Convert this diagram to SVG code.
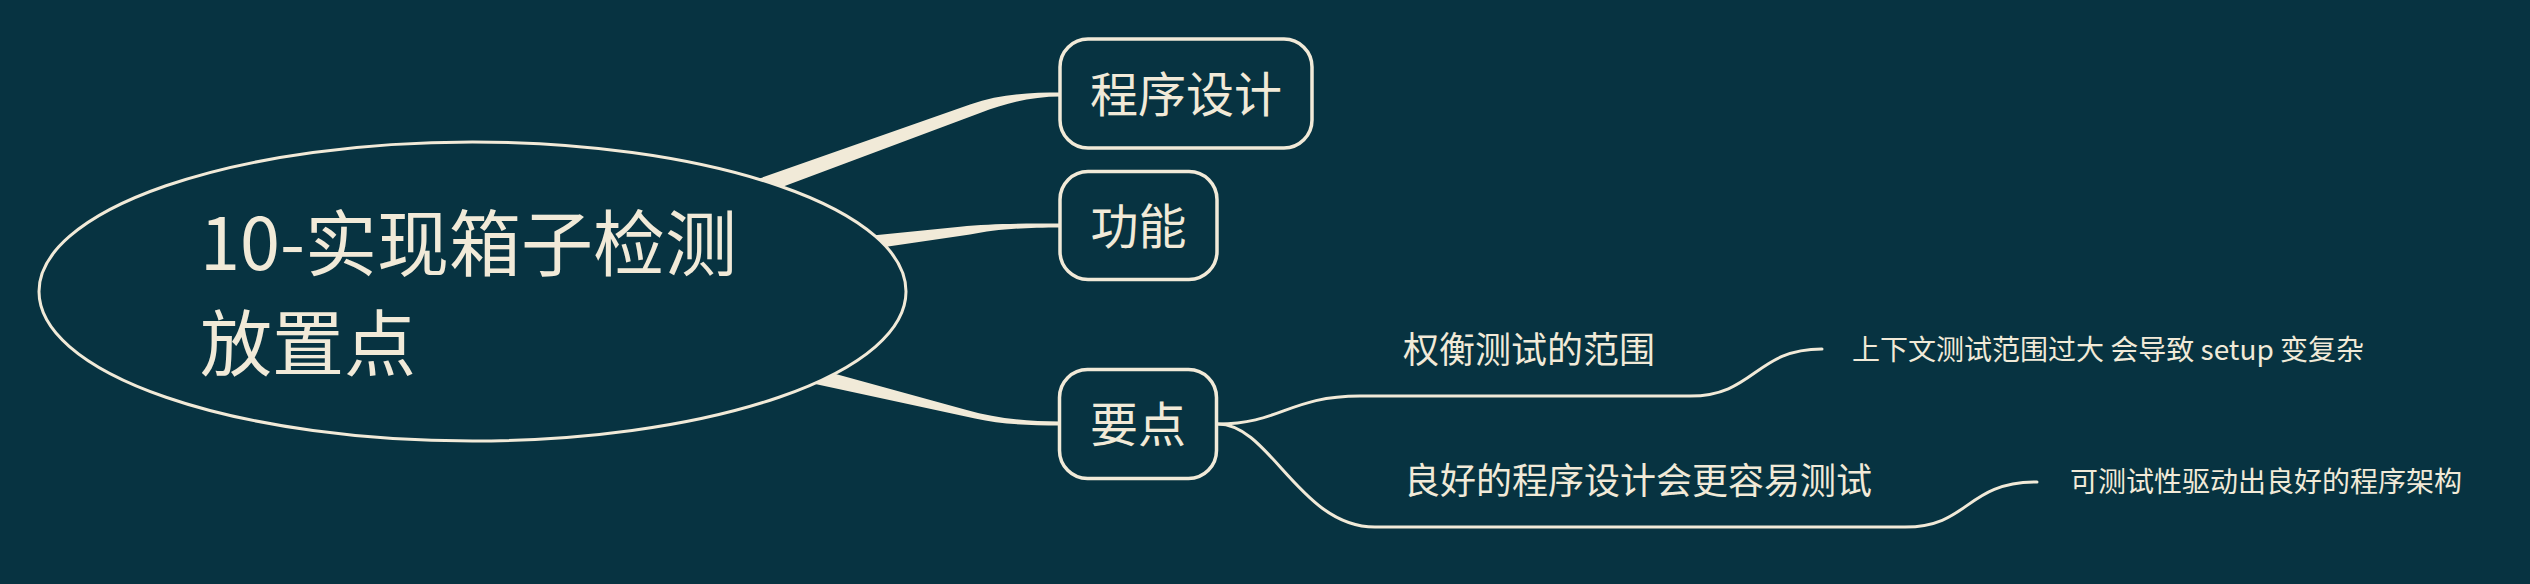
<svg xmlns="http://www.w3.org/2000/svg" width="2530" height="584" viewBox="0 0 2530 584">
  <style>
    .bg { fill: #073341; }
    .branch { fill: #F1EAD8; stroke: none; }
    .thin { fill: none; stroke: #F1EAD8; stroke-width: 3; stroke-linecap: round; }
    .topic { fill: #073341; stroke: #F1EAD8; stroke-width: 3.5; }
    .central { fill: #073341; stroke: #F1EAD8; stroke-width: 3; }
    text { fill: #F1EAD8; font-family: "Noto Sans CJK SC", "Noto Sans", sans-serif; }
    .t-central { font-size: 72px; }
    .t-main { font-size: 48px; text-anchor: middle; }
    .t-sub { font-size: 36px; }
    .t-leaf { font-size: 28px; }
  </style>
  <rect class="bg" x="0" y="0" width="2530" height="584"/>

  <g id="connectors">
    <path class="branch" d="M700,199.4 L970,104.4 C1000,93.8 1030,92.5 1061,92.5 L1061,96.5 C1030,96.5 1005,103.7 980,113 L700,217.7 Z"/>
    <path class="branch" d="M800,242.7 L960,226.7 C990,223.6 1020,223.5 1061,223.5 L1061,227.5 C1020,227.5 995,229.5 970,234.5 L800,259.4 Z"/>
    <path class="branch" d="M760,353.1 L966.7,410 C995,418 1025,421.5 1061,421.5 L1061,425.5 C1025,425.5 1000,424 975,418.5 L760,372.1 Z"/>
    <path class="thin" d="M1218,424 C1280,424 1290,396 1360,396 L1690,396 C1755,396 1755,349 1822,349"/>
    <path class="thin" d="M1218,424 C1270,424 1300,527 1375,527 L1905,527 C1970,527 1965,482 2037,482"/>
  </g>

  <g id="central-topic">
    <ellipse class="central" cx="472.5" cy="291.5" rx="433.5" ry="149.5"/>
    <text class="t-central" x="200" y="270">10-实现箱子检测</text>
    <text class="t-central" x="200" y="370">放置点</text>
  </g>

  <g id="node-chengxusheji">
    <rect class="topic" x="1060" y="39" width="252" height="109" rx="28"/>
    <text class="t-main" x="1186" y="111.5">程序设计</text>
  </g>

  <g id="node-gongneng">
    <rect class="topic" x="1060" y="171.5" width="157" height="108" rx="28"/>
    <text class="t-main" x="1138.5" y="243.5">功能</text>
  </g>

  <g id="node-yaodian">
    <rect class="topic" x="1059.5" y="369.5" width="157" height="109" rx="28"/>
    <text class="t-main" x="1138" y="442">要点</text>
  </g>

  <g id="node-quanheng">
    <text class="t-sub" x="1403" y="363">权衡测试的范围</text>
  </g>

  <g id="node-lianghao">
    <text class="t-sub" x="1404" y="494">良好的程序设计会更容易测试</text>
  </g>

  <g id="node-shangxiawen">
    <text class="t-leaf" x="1852" y="360">上下文测试范围过大 会导致 setup 变复杂</text>
  </g>

  <g id="node-kecheshi">
    <text class="t-leaf" x="2070" y="491.5">可测试性驱动出良好的程序架构</text>
  </g>
</svg>
